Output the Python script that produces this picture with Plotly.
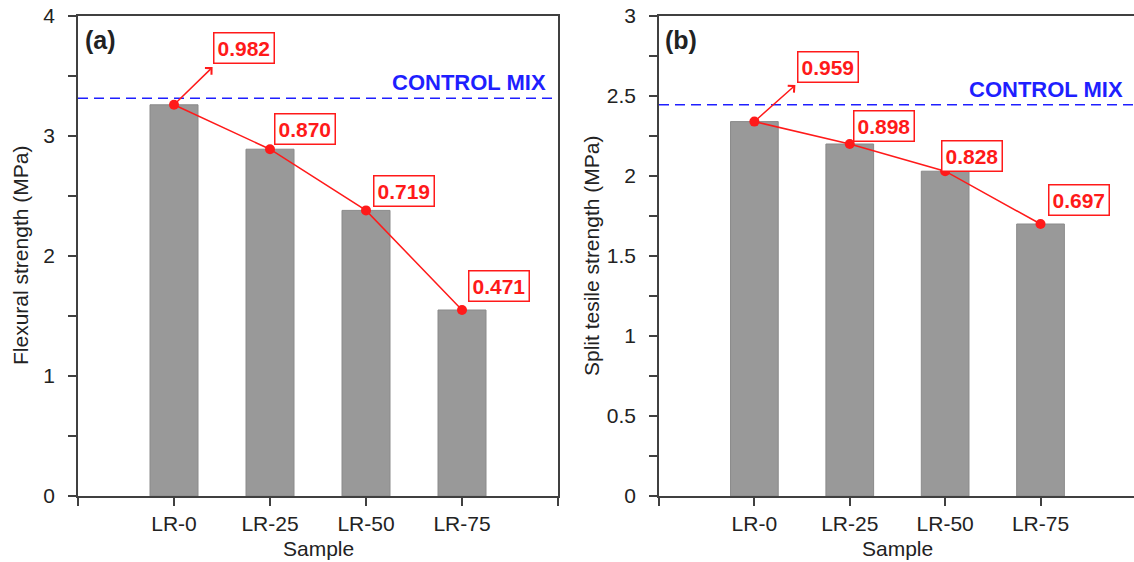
import plotly.graph_objects as go

# ---------------- data ----------------
samples = ["LR-0", "LR-25", "LR-50", "LR-75"]
flexural = [3.26, 2.89, 2.38, 1.55]
flexural_control = 3.315
flexural_ratio = ["0.982", "0.870", "0.719", "0.471"]

split = [2.34, 2.20, 2.03, 1.70]
split_control = 2.445
split_ratio = ["0.959", "0.898", "0.828", "0.697"]

# ---------------- layout helpers (positions / styles) ----------------
W, H = 1134, 562
def px(x):
    return x / W
def py(y):
    return 1 - y / H

xpos = [1, 2, 3, 4]
lab_a_x = [1.734, 2.368, 3.396, 4.382]
lab_a_y = [3.737, 3.06, 2.539, 1.754]
tip_a = (1.402, 3.574)
lab_b_x = [1.776, 2.364, 3.28, 4.40]
lab_b_y = [2.68, 2.311, 2.123, 1.848]
tip_b = (1.43, 2.568)

FONT = "Arial, 'Liberation Sans', sans-serif"
AX = "#404040"
TXT = "#222222"
RED = "#ff1a1a"
BLUE = "#1f1fff"
BAR = "#999999"

fig = go.Figure()

for vals, xa, ya in [(flexural, "x", "y"), (split, "x2", "y2")]:
    fig.add_trace(go.Bar(x=xpos, y=vals, width=0.5, marker=dict(color=BAR, line=dict(color="#8a8a8a", width=1)),
                         xaxis=xa, yaxis=ya, showlegend=False))
    fig.add_trace(go.Scatter(x=xpos, y=vals, mode="lines+markers", line=dict(color=RED, width=1.5),
                             marker=dict(color=RED, size=10), xaxis=xa, yaxis=ya, showlegend=False))

def xaxis_cfg(dom, rng, anchor):
    return dict(domain=dom, range=rng, anchor=anchor, automargin=False,
                tickvals=[0, 1, 2, 3, 4, 5], ticktext=["", *samples, ""],
                ticks="outside", ticklen=8, tickwidth=1.5, tickcolor=AX, showline=True, linecolor=AX,
                linewidth=1.5, mirror=True, showgrid=False, zeroline=False, ticklabelstandoff=0,
                tickfont=dict(family=FONT, size=21, color=TXT))

def yaxis_cfg(rng, dt, anchor):
    return dict(domain=[py(496), py(16)], range=rng, dtick=dt, automargin=False,
                ticks="outside", ticklen=8, tickwidth=1.5,
                tickcolor=AX, showline=True, linecolor=AX, linewidth=1.5, mirror=True, showgrid=False,
                zeroline=False, anchor=anchor, ticklabelstandoff=9,
                minor=dict(dtick=dt / 2, ticks="outside", ticklen=8, tickwidth=1.5, tickcolor=AX),
                tickfont=dict(family=FONT, size=21, color=TXT))

fig.update_layout(
    width=W, height=H, margin=dict(l=0, r=0, t=0, b=0, autoexpand=False),
    paper_bgcolor="white", plot_bgcolor="white",
    xaxis=xaxis_cfg([px(78), px(558)], [0, 5], "y"),
    yaxis=yaxis_cfg([0, 4], 1, "x"),
    xaxis2=xaxis_cfg([px(659), 1.0], [0, 4.98], "y2"),
    yaxis2=yaxis_cfg([0, 3], 0.5, "x2"),
)

shapes = []
annotations = []
for ctrl, xr, yr in [(flexural_control, "x", "y"), (split_control, "x2", "y2")]:
    shapes.append(dict(type="line", xref=xr + " domain", yref=yr, x0=0, x1=1, y0=ctrl, y1=ctrl,
                       line=dict(color=BLUE, width=1.5, dash="10px,6px")))
    annotations.append(dict(text="<b>CONTROL MIX</b>", xref=xr + " domain", yref=yr, x=0.98, y=ctrl,
                            xanchor="right", yanchor="bottom", yshift=1, showarrow=False,
                            font=dict(family=FONT, size=22, color=BLUE)))

for labs, lx, ly, tip, vals, xr, yr in [
    (flexural_ratio, lab_a_x, lab_a_y, tip_a, flexural, "x", "y"),
    (split_ratio, lab_b_x, lab_b_y, tip_b, split, "x2", "y2"),
]:
    for t, x, y in zip(labs, lx, ly):
        annotations.append(dict(text="<b>%s</b>" % t, xref=xr, yref=yr, x=x, y=y, showarrow=False,
                                xanchor="center", yanchor="middle",
                                font=dict(family=FONT, size=21, color=RED), bgcolor="white",
                                bordercolor=RED, borderwidth=1.5, borderpad=3))
    annotations.append(dict(text="", xref=xr, yref=yr, x=tip[0], y=tip[1], ax=xpos[0], ay=vals[0],
                            axref=xr, ayref=yr, showarrow=True, arrowhead=4, arrowsize=1.2,
                            arrowwidth=1.5, arrowcolor=RED, standoff=0, startstandoff=0))

def ptext(text, x, y, size, angle=0):
    return dict(text=text, xref="paper", yref="paper", x=px(x), y=py(y), xanchor="center",
                yanchor="middle", textangle=angle, showarrow=False,
                font=dict(family=FONT, size=size, color=TXT))

annotations += [
    ptext("<b>(a)</b>", 100, 40, 25),
    ptext("<b>(b)</b>", 681, 40, 25),
    ptext("Flexural strength (MPa)", 20, 256, 21, -90),
    ptext("Split tesile strength (MPa)", 591, 256, 21, -90),
    ptext("Sample", 318, 548, 21),
    ptext("Sample", 897, 548, 21),
]

fig.update_layout(shapes=shapes, annotations=annotations)
fig.write_html("out.html")
